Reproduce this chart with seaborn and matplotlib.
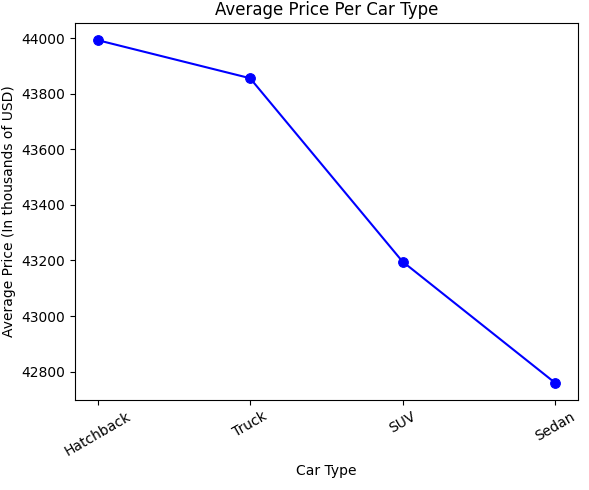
import matplotlib
matplotlib.use("Agg")
import matplotlib.pyplot as plt
import seaborn as sns
import pandas as pd

car_types = ["Hatchback", "Truck", "SUV", "Sedan"]
avg_price = [43993, 43856, 43196, 42760]

df = pd.DataFrame({"Car Type": car_types, "Average Price": avg_price})

fig, ax = plt.subplots(figsize=(5.89, 4.9), dpi=100)
sns.lineplot(data=df, x="Car Type", y="Average Price", color="blue", marker="o",
             markersize=7, markeredgecolor="blue", sort=False, ax=ax)
ax.set_title("Average Price Per Car Type")
ax.set_xlabel("Car Type")
ax.set_ylabel("Average Price (In thousands of USD)")
ax.tick_params(axis="x", rotation=30)
fig.subplots_adjust(left=0.127, right=0.981, bottom=0.184, top=0.953)
fig.savefig("out.png", dpi=100)
